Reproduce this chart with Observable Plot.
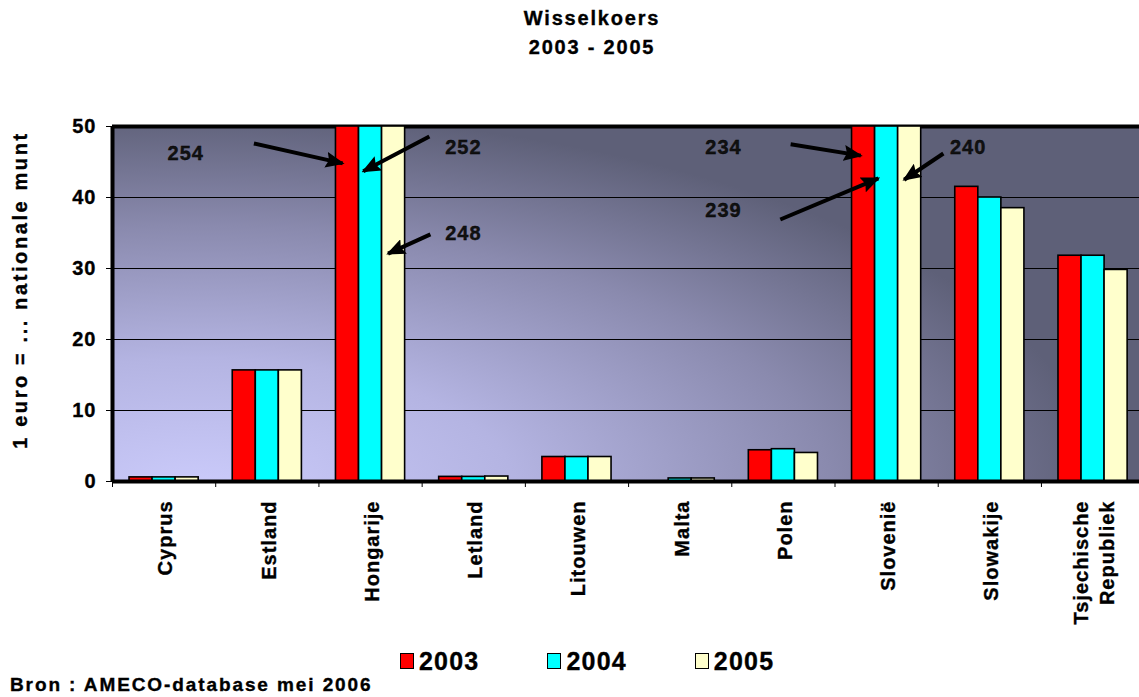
<!DOCTYPE html>
<html>
<head>
<meta charset="utf-8">
<script src="https://cdn.jsdelivr.net/npm/d3@7"></script>
<script src="https://cdn.jsdelivr.net/npm/@observablehq/plot@0.6"></script>
<style>
  html, body { margin: 0; padding: 0; background: #fff; }
  body { width: 1139px; height: 697px; position: relative; overflow: hidden;
         font-family: "Liberation Sans", Arial, sans-serif; font-weight: bold; color: #000;
         -webkit-text-stroke: 0.35px #000; }
  #chart { position: absolute; left: 0; top: 0; }
  #chart svg text { stroke: #000; stroke-width: 0.35px; }
  .title { position: absolute; left: 0; width: 1184px; text-align: center; font-size: 20px;
           line-height: 20px; letter-spacing: 1.8px; }
  #ylabel { position: absolute; left: 20px; top: 290px; transform: translate(-50%, -50%) rotate(-90deg);
            white-space: nowrap; font-size: 20px; letter-spacing: 2.6px; line-height: 20px; }
  #legend { position: absolute; left: 400px; top: 648px; display: flex; align-items: center; }
  .item { display: flex; align-items: center; }
  .sw { width: 12px; height: 14px; border: 1.5px solid #000; margin-right: 5px; }
  .lt { font-size: 25px; letter-spacing: 1.2px; line-height: 26px; }
  #source { position: absolute; left: 10px; top: 675px; font-size: 19px; letter-spacing: 1.9px; line-height: 20px; }
</style>
</head>
<body>
<div class="title" style="top:8px">Wisselkoers</div>
<div class="title" style="top:37px">2003 - 2005</div>
<div id="chart"></div>
<div id="ylabel">1 euro = ... nationale munt</div>
<div id="legend"></div>
<div id="source">Bron : AMECO-database mei 2006</div>
<script>
// ---- data ----
const countries = ["Cyprus", "Estland", "Hongarije", "Letland", "Litouwen", "Malta", "Polen", "Slovenië", "Slowakije", "Tsjechische\nRepubliek"];
const years = ["2003", "2004", "2005"];
const values2003 = [0.58, 15.65, 254, 0.65, 3.45, 0, 4.40, 234, 41.5, 31.8];
const values2004 = [0.58, 15.65, 252, 0.65, 3.45, 0.43, 4.55, 239, 40.0, 31.8];
const values2005 = [0.58, 15.65, 248, 0.70, 3.45, 0.43, 4.02, 240, 38.5, 29.8];
const yearColors = ["#ff0000", "#00ffff", "#ffffcc"];
const yTicks = [0, 10, 20, 30, 40, 50];

// annotations (value labels for bars that run off the scale)
const annText   = ["254", "252", "248", "234", "239", "240"];
const annTextX  = [0.21, 2.90, 2.90, 5.42, 5.42, 7.79];
const annTextY  = [46.2, 47.0, 34.9, 47.0, 38.2, 47.0];
const annFromX  = [0.87, 2.57, 2.58, 6.07, 5.97, 7.55];
const annFromY  = [47.6, 48.6, 34.8, 47.5, 36.9, 46.2];
const annToX    = [1.73, 1.93, 2.17, 6.75, 6.92, 7.17];
const annToY    = [44.8, 43.7, 32.1, 45.9, 42.7, 42.5];

// ---- build tables ----
const series = [values2003, values2004, values2005];
const groupWidth = 0.67;
const barWidth = groupWidth / years.length;
const bars = [];
countries.forEach((c, i) => {
  years.forEach((y, k) => {
    bars.push({country: c, index: i, year: y, k, value: series[k][i]});
  });
});
const anns = annText.map((t, i) => ({
  text: t, tx: annTextX[i], ty: annTextY[i],
  x1: annFromX[i], y1: annFromY[i], x2: annToX[i], y2: annToY[i]
}));

const W = 1139, H = 697;
const plot = Plot.plot({
  width: W,
  height: H,
  marginTop: 126,
  marginBottom: 216,
  marginLeft: 112,
  marginRight: 0,
  style: {
    fontFamily: "'Liberation Sans', Arial, sans-serif",
    fontSize: "20px",
    fontWeight: "bold",
    letterSpacing: "1px",
    color: "#000",
    background: "transparent",
    overflow: "visible"
  },
  x: {domain: [-0.5, 9.45], ticks: d3.range(-0.5, 9, 1), tickFormat: () => "", tickSize: 6, label: null},
  y: {domain: [0, 50], ticks: yTicks, tickSize: 6, tickPadding: 10, label: null, clamp: true},
  color: {domain: years, range: yearColors},
  marks: [
    Plot.frame({fill: "url(#bgGrad)", stroke: "none"}),
    Plot.ruleY(yTicks.slice(1, -1), {stroke: "#000", strokeWidth: 1}),
    Plot.ruleY([50], {stroke: "#000", strokeWidth: 4}),
    Plot.rectY(bars, {
      x1: d => d.index - groupWidth / 2 + d.k * barWidth,
      x2: d => d.index - groupWidth / 2 + (d.k + 1) * barWidth,
      y1: d => 0,
      y2: "value",
      fill: "year",
      stroke: "#000",
      strokeWidth: 1.6
    }),
    Plot.ruleX([-0.5], {stroke: "#000", strokeWidth: 4}),
    Plot.ruleY([0], {stroke: "#000", strokeWidth: 4}),
    Plot.text(countries, {
      x: (d, i) => i,
      frameAnchor: "bottom",
      text: d => d,
      rotate: -90,
      textAnchor: "end",
      lineAnchor: "middle",
      lineHeight: 1.3,
      dy: 19,
      fontSize: 20,
      fontWeight: "bold",
      fill: "#000"
    }),
    Plot.link(anns, {
      x1: "x1", y1: "y1", x2: "x2", y2: "y2",
      stroke: "#000", strokeWidth: 4
    }),
    Plot.text(anns, {x: "tx", y: "ty", text: "text", fontSize: 20, fontWeight: "bold", fill: "#111"})
  ]
});

const svg = d3.select(plot);
const defs = svg.append("defs");
// gradient for the plot background
const grad = defs.append("radialGradient")
  .attr("id", "bgGrad")
  .attr("gradientUnits", "userSpaceOnUse")
  .attr("cx", 200).attr("cy", 490).attr("r", 900)
  .attr("gradientTransform", "translate(200,490) scale(1,0.42) translate(-200,-490)");
[[0, "#cbcbfb"], [0.35, "#b4b4e2"], [0.7, "#8a8aae"], [1, "#5e6078"]].forEach(([o, c]) =>
  grad.append("stop").attr("offset", o).attr("stop-color", c));
// filled arrow head
defs.append("marker")
  .attr("id", "ahead")
  .attr("markerUnits", "userSpaceOnUse")
  .attr("viewBox", "0 0 19 16")
  .attr("markerWidth", 19).attr("markerHeight", 16)
  .attr("refX", 17).attr("refY", 8)
  .attr("orient", "auto")
  .append("path").attr("d", "M0,0L19,8L0,16L3,8Z").attr("fill", "#000").attr("stroke", "none");
svg.selectAll('g[aria-label="link"] path').attr("marker-end", "url(#ahead)");

document.getElementById("chart").appendChild(plot);

// legend
const legend = d3.select("#legend");
years.forEach((y, k) => {
  const it = legend.append("div").attr("class", "item").style("margin-right", k < years.length - 1 ? "68px" : "0");
  it.append("div").attr("class", "sw").style("background", yearColors[k]);
  it.append("div").attr("class", "lt").text(y);
});
</script>
</body>
</html>
